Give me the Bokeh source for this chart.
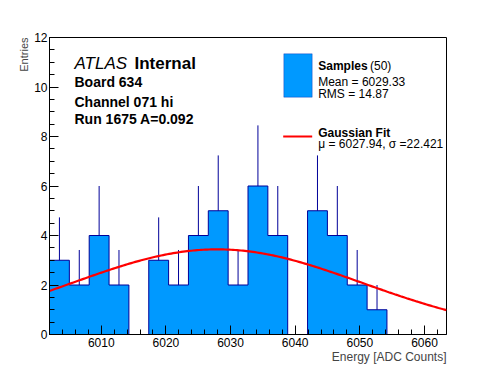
import numpy as np
from bokeh.plotting import figure
from bokeh.models import (Range1d, SingleIntervalTicker, Label, BoxAnnotation, Title)
from bokeh.embed import file_html
from bokeh.resources import INLINE

# ---- data ----
x_min = 6002.0
bin_width = 3.07
n_bins = 20
counts = [3, 2, 4, 2, 0, 3, 2, 4, 5, 2, 6, 4, 0, 5, 4, 2, 1, 0, 0, 0]
fit_mu = 6027.94
fit_sigma = 22.421
fit_amp = 3.44
n_samples = 50
mean_val = 6029.33
rms_val = 14.87

edges = [x_min + i * bin_width for i in range(n_bins + 1)]
x_max = edges[-1]
centers = [0.5 * (edges[i] + edges[i + 1]) for i in range(n_bins)]

FONT = "Liberation Sans"
FILL = "#0099ff"
EDGE = "#000099"

W, H = 496, 372
L, R, T, B = 49, 50, 37, 38

p = figure(width=W, height=H, output_backend="svg", toolbar_location=None,
           x_range=Range1d(x_min, x_max), y_range=Range1d(0, 12),
           min_border_left=L, min_border_right=R, min_border_top=T, min_border_bottom=B,
           background_fill_color="white", border_fill_color="white")
p.grid.visible = False
p.outline_line_color = "black"
p.outline_line_width = 1

# axes styling
p.xaxis.ticker = SingleIntervalTicker(interval=10, num_minor_ticks=5)
p.yaxis.ticker = SingleIntervalTicker(interval=2, num_minor_ticks=4)
for ax in (p.xaxis[0], p.yaxis[0]):
    ax.major_tick_in = 9
    ax.major_tick_out = 0
    ax.minor_tick_in = 5
    ax.minor_tick_out = 0
    ax.major_tick_line_color = "black"
    ax.minor_tick_line_color = "black"
    ax.axis_line_color = "black"
    ax.major_label_text_font = FONT
    ax.major_label_text_font_size = "12px"
    ax.major_label_text_color = "black"
p.xaxis.major_label_standoff = 3
p.yaxis.major_label_standoff = 2

p.add_layout(Title(text="Energy [ADC Counts]", align="right", vertical_align="top",
                   text_font=FONT, text_font_size="12px", text_font_style="normal",
                   offset=0, standoff=0), "below")
p.add_layout(Title(text="Entries", align="right", text_font=FONT,
                   text_font_size="11px", text_font_style="normal",
                   offset=0, standoff=4), "left")

# histogram (filled step area + outline)
p.varea_step(x=edges, y1=[0] * (n_bins + 1), y2=counts + [0], step_mode="after",
             fill_color=FILL)
p.step(x=edges, y=counts + [0], mode="after", line_color=EDGE, line_width=1)
# upper error bars
ex = [c for c, n in zip(centers, counts) if n > 0]
ey0 = [n for n in counts if n > 0]
ey1 = [n + np.sqrt(n) for n in counts if n > 0]
p.segment(x0=ex, y0=ey0, x1=ex, y1=ey1, line_color=EDGE, line_width=1)

# gaussian fit curve
gx = np.linspace(x_min, x_max, 200)
gy = fit_amp * np.exp(-0.5 * ((gx - fit_mu) / fit_sigma) ** 2)
p.line(gx, gy, line_color="red", line_width=2.2)

# helper: page pixel -> data coordinates
fx0, fy0 = L, T
fw, fh = W - L - R, H - T - B
def dx(px):
    return x_min + (px - fx0) / fw * (x_max - x_min)
def dy(py):
    return 12 - (py - fy0) / fh * 12

def lab(text, px, py, size="12px", style="normal"):
    p.add_layout(Label(x=dx(px), y=dy(py), text=text, text_font=FONT,
                       text_font_size=size, text_font_style=style,
                       text_baseline="alphabetic", text_align="left",
                       text_color="black"))

lab("ATLAS", 74, 63.3, "17px", "italic")
lab("Internal", 134, 63.3, "17px", "bold")
lab("Board 634", 74, 81, "14px", "bold")
lab("Channel 071 hi", 74, 101, "14px", "bold")
lab("Run 1675 A=0.092", 74, 118.3, "14px", "bold")

# legend
p.add_layout(BoxAnnotation(left=dx(283.3), right=dx(311.7), top=dy(53.3), bottom=dy(96.7),
                           fill_color=FILL, fill_alpha=1, line_color=EDGE, line_width=1, level="annotation"))
lab("Samples", 317.7, 65.7, "12px", "bold")
lab("(%d)" % n_samples, 369.5, 65.7, "12px")
lab("Mean = %.2f" % mean_val, 317.7, 81, "12px")
lab("RMS = %.2f" % rms_val, 317.7, 93.3, "12px")
p.add_layout(BoxAnnotation(left=dx(282.7), right=dx(311.7), top=dy(135), bottom=dy(137),
                           fill_color="red", fill_alpha=1, line_color=None, level="annotation"))
lab("Gaussian Fit", 317.7, 132.3, "12px", "bold")
lab("\u03bc = %.2f, \u03c3 =%.3f" % (fit_mu, fit_sigma), 317.7, 143.3, "12px")

open("out.html", "w").write(file_html(p, INLINE))
